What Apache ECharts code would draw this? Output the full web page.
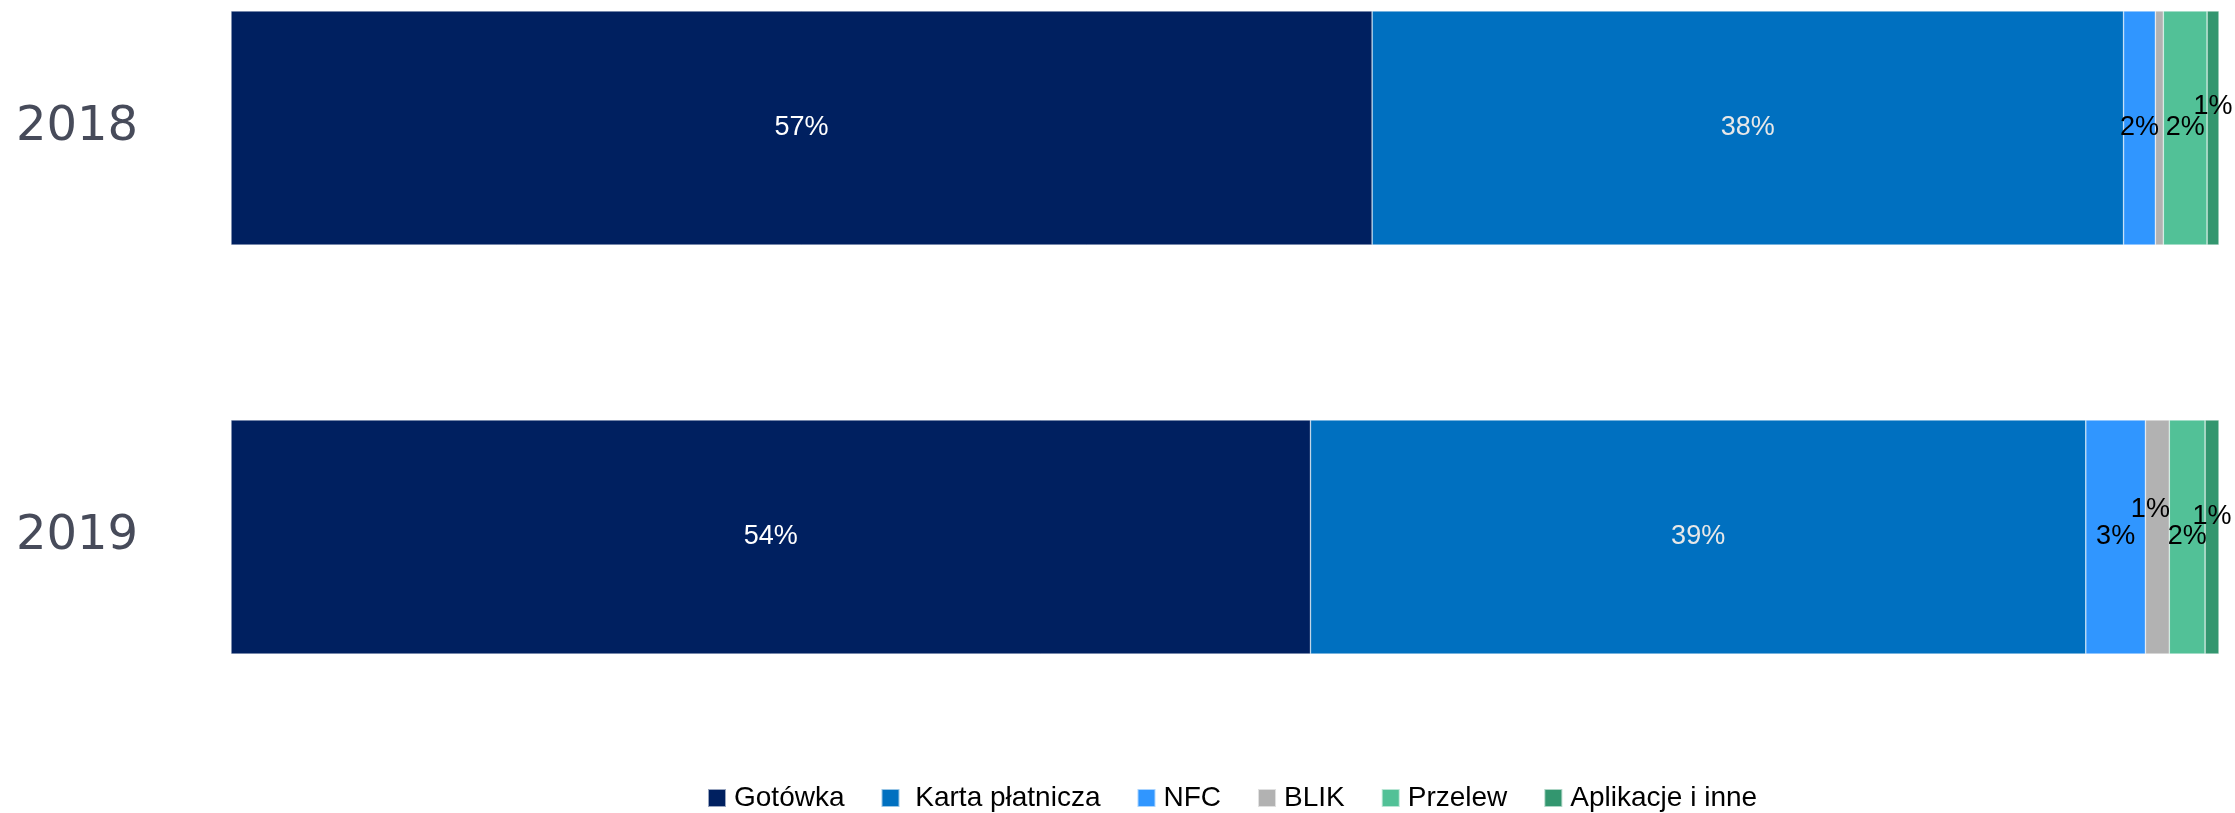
<!DOCTYPE html>
<html>
<head>
<meta charset="utf-8">
<script src="https://cdn.jsdelivr.net/npm/echarts@6/dist/echarts.min.js"></script>
<style>
html,body{margin:0;padding:0;background:#fff;}
#chart{width:2235px;height:813px;}
</style>
</head>
<body>
<div id="chart"></div>
<script>
// ---- data ----
const years = ['2018', '2019'];
const seriesNames = ['Gotówka', ' Karta płatnicza', 'NFC', 'BLIK', 'Przelew', 'Aplikacje i inne'];
const gotowka = [57.4, 54.3];
const karta = [37.8, 39.0];
const nfc = [1.6, 3.0];
const blik = [0.4, 1.2];
const przelew = [2.2, 1.8];
const aplikacje = [0.6, 0.7];

// ---- styles ----
const colors = ['#002060', '#0070C0', '#3096FF', '#B2B2B2', '#52C197', '#33966F'];
const labelColors = ['#ffffff', '#e8e8e8', '#000000', '#000000', '#000000', '#000000'];
// label nudges for crowded small segments: [seriesIndex][yearIndex]
const labelNudge = {
  5: {0: [0, -21], 1: [0, -20]},
  3: {1: [-7, -27]}
};

const allValues = [gotowka, karta, nfc, blik, przelew, aplikacje];

const chart = echarts.init(document.getElementById('chart'), null, {renderer: 'canvas'});

const series = allValues.map((vals, si) => ({
  name: seriesNames[si],
  type: 'bar',
  stack: 'total',
  barWidth: 234,
  itemStyle: {color: colors[si], borderColor: 'rgba(255,255,255,0.6)', borderWidth: 0.6},
  label: {
    show: true,
    position: 'inside',
    color: labelColors[si],
    fontFamily: 'Liberation Sans',
    fontSize: 27,
    formatter: p => {
      const r = Math.round(p.value);
      return r === 0 ? '' : r + '%';
    }
  },
  emphasis: {disabled: true},
  data: vals.map((v, yi) => {
    const nudge = labelNudge[si] && labelNudge[si][yi];
    return nudge ? {value: v, label: {offset: nudge}} : v;
  })
}));

chart.setOption({
  animation: false,
  backgroundColor: '#ffffff',
  grid: {left: 231, right: 16, top: 128, bottom: 276, containLabel: false, outerBoundsMode: 'none'},
  xAxis: {
    type: 'value', min: 0, max: 100, show: false
  },
  yAxis: {
    type: 'category',
    inverse: true,
    boundaryGap: false,
    data: years,
    axisLine: {show: false},
    axisTick: {show: false},
    splitLine: {show: false},
    axisLabel: {
      align: 'left',
      margin: 215,
      fontFamily: 'DejaVu Sans',
      fontSize: 48,
      color: '#474B5A'
    }
  },
  legend: {
    data: seriesNames,
    left: 702,
    top: 779,
    itemWidth: 18,
    itemHeight: 18,
    itemGap: 36,
    icon: 'rect',
    textStyle: {fontFamily: 'Liberation Sans', fontSize: 28, color: '#000', padding: [0, 0, 0, 3]},
    selectedMode: false
  },
  series: series
});
</script>
</body>
</html>
